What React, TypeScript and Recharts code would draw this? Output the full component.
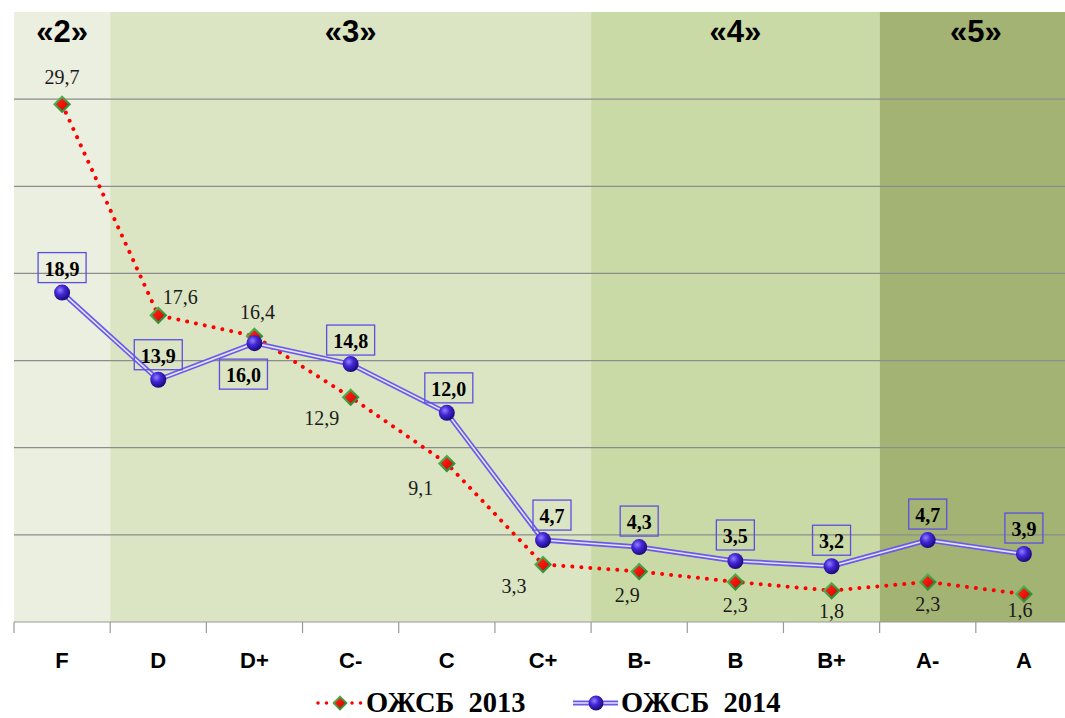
import React from 'react';
import {
  ComposedChart,
  Line,
  XAxis,
  YAxis,
  ReferenceArea,
  ReferenceLine,
  LabelList,
  Legend,
} from 'recharts';

// ---- data ----
const categories = ['F', 'D', 'D+', 'C-', 'C', 'C+', 'B-', 'B', 'B+', 'A-', 'A'];
const values2013 = [29.7, 17.6, 16.4, 12.9, 9.1, 3.3, 2.9, 2.3, 1.8, 2.3, 1.6];
const values2014 = [18.9, 13.9, 16.0, 14.8, 12.0, 4.7, 4.3, 3.5, 3.2, 4.7, 3.9];
const seriesNames = ['ОЖСБ  2013', 'ОЖСБ  2014'];
const bandLabels = ['«2»', '«3»', '«4»', '«5»'];
const bandFrom = ['F', 'D', 'B-', 'A-'];
const bandTo = ['F', 'C+', 'B+', 'A'];
const gridValues = [5, 10, 15, 20, 25, 30];
const yDomain = [0, 35];

// ---- styles ----
const bandColors = ['#EBEFDF', '#DBE5C3', '#CADAA6', '#A2B374'];
const off2013 = [[0, -27], [22, -18], [3, -24], [-29, 21], [-26, 25], [-29, 22], [-12, 24], [0, 23], [0, 20], [0, 22], [-4, 16]];
const off2014 = [[0, -25], [0, -25], [-11, 31], [0, -24], [2, -25], [9, -25], [0, -26], [0, -26], [0, -26], [0, -26], [0, -26]];

const SERIF = '"Liberation Serif", "Times New Roman", serif';
const SANS = '"Liberation Sans", Arial, sans-serif';

const data = categories.map((c, i) => ({ cat: c, v2013: values2013[i], v2014: values2014[i] }));

const fmt = (v: number) => v.toFixed(1).replace('.', ',');

const Diamond = ({ cx, cy, s = 1 }: { cx: number; cy: number; s?: number }) => {
  const o = 9 * s;
  const n = 6 * s;
  return (
    <g>
      <polygon points={`${cx},${cy - o} ${cx + o},${cy} ${cx},${cy + o} ${cx - o},${cy}`} fill="url(#gGreen)" />
      <polygon points={`${cx},${cy - n} ${cx + n},${cy} ${cx},${cy + n} ${cx - n},${cy}`} fill="url(#gRed)" />
    </g>
  );
};

const Sphere = ({ cx, cy, r = 8 }: { cx: number; cy: number; r?: number }) => (
  <circle cx={cx} cy={cy} r={r} fill="url(#gBall)" />
);

const dot2013 = (p: any) => <Diamond key={`d13-${p.index}`} cx={p.cx} cy={p.cy} />;
const dot2014 = (p: any) => <Sphere key={`d14-${p.index}`} cx={p.cx} cy={p.cy} />;

const getXY = (p: any) => {
  const x = p.x ?? p.viewBox?.x ?? 0;
  const y = p.y ?? p.viewBox?.y ?? 0;
  return [x, y];
};

const label2013 = (p: any) => {
  const [x, y] = getXY(p);
  const i = p.index ?? 0;
  const [dx, dy] = off2013[i] || [0, -20];
  return (
    <text
      key={`l13-${i}`}
      x={x + dx}
      y={y + dy}
      textAnchor="middle"
      dominantBaseline="central"
      fontFamily={SERIF}
      fontSize={20}
      fill="#1a1a1a"
    >
      {fmt(Number(p.value))}
    </text>
  );
};

const label2014 = (p: any) => {
  const [x, y] = getXY(p);
  const i = p.index ?? 0;
  const [dx, dy] = off2014[i] || [0, -25];
  const txt = fmt(Number(p.value));
  const fs = 20;
  const digits = txt.replace(',', '').length;
  const tw = digits * 0.5 * fs + 0.25 * fs;
  const w = tw + 13;
  const h = 30;
  const cx = x + dx;
  const cy = y + dy;
  return (
    <g key={`l14-${i}`}>
      <rect x={cx - w / 2} y={cy - h / 2} width={w} height={h} fill="none" stroke="#5B4FE0" strokeWidth={1.3} />
      <text
        x={cx}
        y={cy + 1}
        textAnchor="middle"
        dominantBaseline="central"
        fontFamily={SERIF}
        fontWeight="bold"
        fontSize={fs}
        fill="#000"
      >
        {txt}
      </text>
    </g>
  );
};

const XTick = (p: any) => {
  const { x, y, payload } = p;
  const half = payload?.offset ?? 48.1;
  return (
    <g>
      <line x1={x - half} y1={y} x2={x - half} y2={y + 11} stroke="#999" strokeWidth={1.2} />
      <text
        x={x}
        y={y + 38}
        textAnchor="middle"
        dominantBaseline="central"
        fontFamily={SANS}
        fontWeight="bold"
        fontSize={22}
        fill="#000"
      >
        {payload.value}
      </text>
    </g>
  );
};

const LegendContent = () => (
  <svg width={1065} height={36} style={{ display: 'block', overflow: 'visible' }}>
    <line x1={318} y1={21} x2={363} y2={21} stroke="#FF0000" strokeWidth={3.5} strokeDasharray="0.01 8.5" strokeLinecap="round" />
    <Diamond cx={340} cy={21} s={0.85} />
    <text x={366} y={30} fontFamily={SERIF} fontWeight="bold" fontSize={28.5} fill="#000" style={{ whiteSpace: 'pre' }}>
      {seriesNames[0]}
    </text>
    <line x1={573} y1={21} x2={618} y2={21} stroke="#6A5AE6" strokeWidth={5} />
    <line x1={573} y1={21} x2={618} y2={21} stroke="#E6E2FF" strokeWidth={1.6} />
    <Sphere cx={596} cy={21} r={7.5} />
    <text x={621} y={30} fontFamily={SERIF} fontWeight="bold" fontSize={28.5} fill="#000" style={{ whiteSpace: 'pre' }}>
      {seriesNames[1]}
    </text>
  </svg>
);

export default function App() {
  return (
    <div style={{ position: 'absolute', left: 0, top: 0, width: 1065, height: 718, overflow: 'hidden', background: '#fff' }}>
      <svg width={0} height={0} style={{ position: 'absolute' }}>
        <defs>
          <radialGradient id="gBall" cx="38%" cy="35%" r="65%">
            <stop offset="0%" stopColor="#8E80FF" />
            <stop offset="45%" stopColor="#4426D6" />
            <stop offset="100%" stopColor="#1C0A7A" />
          </radialGradient>
          <linearGradient id="gGreen" x1="0" y1="0" x2="1" y2="1">
            <stop offset="0%" stopColor="#5DC05A" />
            <stop offset="100%" stopColor="#1E7F2C" />
          </linearGradient>
          <linearGradient id="gRed" x1="0" y1="0" x2="1" y2="1">
            <stop offset="0%" stopColor="#FF2A1A" />
            <stop offset="100%" stopColor="#D80000" />
          </linearGradient>
        </defs>
      </svg>
      <ComposedChart
        width={1082}
        height={718}
        data={data}
        margin={{ top: 12, right: 10, bottom: 0, left: 14 }}
      >
        <XAxis
          dataKey="cat"
          type="category"
          scale="band"
          height={60}
          tickSize={0}
          tickMargin={0}
          axisLine={{ stroke: '#999', strokeWidth: 1.2 }}
          tickLine={false}
          tick={<XTick />}
          interval={0}
        />
        <YAxis hide type="number" domain={yDomain} />
        {bandLabels.map((lb, i) => (
          <ReferenceArea
            key={lb}
            x1={bandFrom[i]}
            x2={bandTo[i]}
            y1={yDomain[0]}
            y2={yDomain[1]}
            fill={bandColors[i]}
            fillOpacity={1}
            stroke="none"
            label={{
              value: lb,
              position: 'insideTop',
              offset: 8,
              fill: '#000',
              fontSize: 31,
              fontWeight: 'bold',
              fontFamily: SANS,
            }}
          />
        ))}
        {gridValues.map((g) => (
          <ReferenceLine key={g} y={g} stroke="#8C8C8C" strokeWidth={1.2} />
        ))}
        <Line
          dataKey="v2013"
          isAnimationActive={false}
          stroke="#FF0000"
          strokeWidth={4}
          strokeDasharray="0.01 9"
          strokeLinecap="round"
          dot={dot2013}
          activeDot={false}
          legendType="none"
        >
          <LabelList dataKey="v2013" content={label2013} />
        </Line>
        <Line
          dataKey="v2014"
          isAnimationActive={false}
          stroke="#6A5AE6"
          strokeWidth={5}
          dot={false}
          activeDot={false}
          legendType="none"
        />
        <Line
          dataKey="v2014"
          isAnimationActive={false}
          stroke="#E6E2FF"
          strokeWidth={1.6}
          dot={dot2014}
          activeDot={false}
          legendType="none"
        >
          <LabelList dataKey="v2014" content={label2014} />
        </Line>
        <Legend
          verticalAlign="bottom"
          content={<LegendContent />}
          wrapperStyle={{ height: 36, left: 0, width: 1065 }}
        />
      </ComposedChart>
    </div>
  );
}
